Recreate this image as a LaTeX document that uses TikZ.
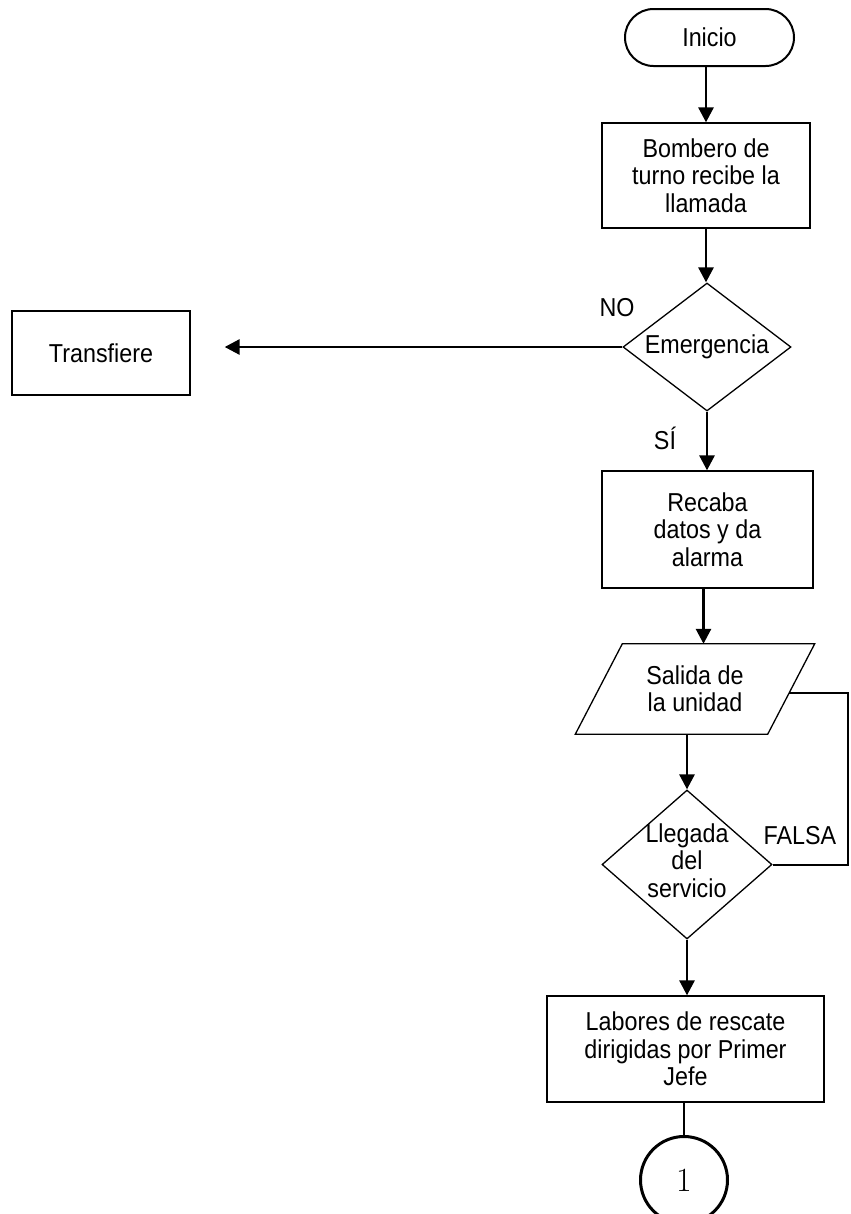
\documentclass[tikz,border=0pt]{standalone}
\usepackage{fontspec}
\setmainfont{Liberation Sans}[FakeStretch=0.9]
\newfontfamily\digitfont{Latin Modern Roman}
\usetikzlibrary{arrows.meta,shapes.geometric,calc}
\begin{document}
\begin{tikzpicture}[x=1bp,y=-1bp,
  every node/.style={font=\fontsize{26}{27.5}\selectfont, align=center, inner sep=0pt},
  term/.style={draw, line width=2bp, rectangle, rounded corners=28.5bp},
  proc/.style={draw, line width=1.3bp, rectangle},
  decis/.style={draw, diamond, line width=1.3bp},
  flow/.style={line width=2.8bp, -{Triangle[width=15bp,length=15bp]}},
  link/.style={line width=2bp},
  conn/.style={draw, circle, line width=3bp, minimum size=87bp,
    font=\digitfont\fontsize{34}{38}\selectfont}
]
\useasboundingbox (0,0) rectangle (851,1214);

% nodes
\node[term, minimum width=169bp, minimum height=57bp] (ini) at (709.5,37.5) {Inicio};
\node[proc, minimum width=208bp, minimum height=105bp] (bom) at (706,175.5) {Bombero de\\turno recibe la\\llamada};
\node[decis, minimum width=168bp, minimum height=128bp] (emer) at (707,347) {};
\node (emert) at (emer) {Emergencia};
\node[proc, minimum width=178bp, minimum height=84bp] (tra) at (101,353) {Transfiere};
\node[proc, minimum width=211bp, minimum height=117bp] (rec) at (707.5,529.5) {Recaba\\datos y da\\alarma};

% input/output parallelogram
\node[minimum width=192bp, minimum height=90bp] (sal) at (695,689) {Salida de\\la unidad};
\coordinate (salNW) at ($(sal.north west)+(23.5,0)$);
\coordinate (salNE) at ($(sal.north east)+(23.5,0)$);
\coordinate (salSE) at ($(sal.south east)+(-23.5,0)$);
\coordinate (salSW) at ($(sal.south west)+(-23.5,0)$);
\draw[line width=1.3bp] (salNW) -- (salNE) -- (salSE) -- (salSW) -- cycle;
\coordinate (salR) at ($(salNE)!0.544!(salSE)$);

\node[decis, minimum width=170bp, minimum height=149bp] (lleg) at (687,864.5) {};
\node (llegt) at ([yshift=4bp]lleg.center) {Llegada\\del\\servicio};
\node[proc, minimum width=277bp, minimum height=106bp] (lab) at (685.5,1049) {Labores de rescate\\dirigidas por Primer\\Jefe};
\node[conn] (fin) at (684,1180) {1};

% labels
\node (lno) at (617,308) {NO};
\node (lsi) at (665,438) {SÍ};
\node (lfalse) at (800,836) {FALSA};

% connectors
\draw[flow] (ini.south -| bom.north) -- (bom.north);
\draw[flow] (bom.south) -- (bom.south |- emer.north);
\draw[flow, shorten >=34bp] (emer.west) -- (emer.west -| tra.east);
\draw[flow] (emer.south) -- (emer.south |- rec.north);
\draw[flow] ([xshift=-4bp]rec.south) -- ([xshift=-4bp]rec.south |- sal.north);
\draw[flow] (sal.south -| lleg.north) -- (lleg.north);
\draw[flow] (lleg.south) -- (lleg.south |- lab.north);
\draw[line width=2.8bp] (lab.south -| fin.north) -- (fin.north);

% loop back from the decision to the output
\coordinate (fbx) at (848,0);
\draw[link] (lleg.east) -- (lleg.east -| fbx) -- (salR -| fbx) -- (salR);
\end{tikzpicture}
\end{document}
